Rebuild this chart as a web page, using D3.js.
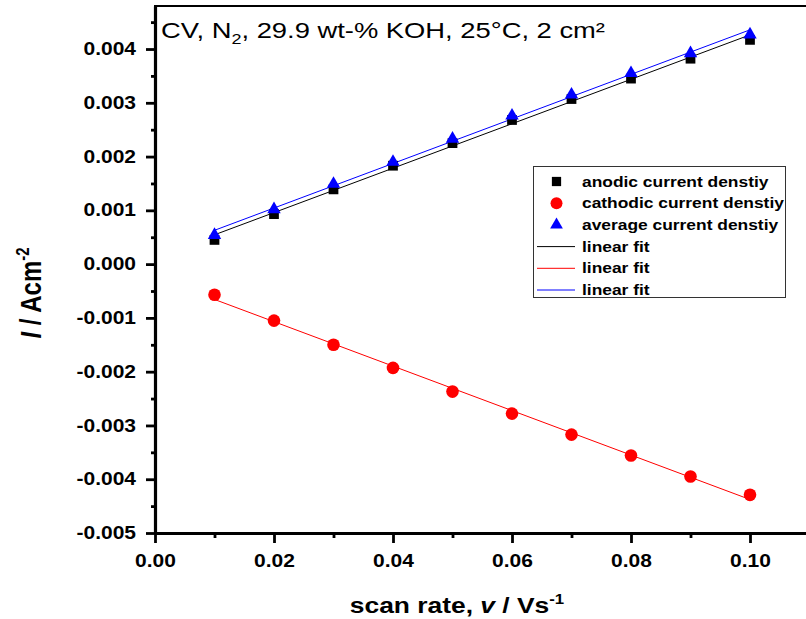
<!DOCTYPE html>
<html>
<head>
<meta charset="utf-8">
<script src="https://cdn.jsdelivr.net/npm/d3@7"></script>
<style>
  body { margin: 0; background: #fff; }
  text { font-family: "Liberation Sans", Arial, sans-serif; }
</style>
</head>
<body>
<div id="chart"></div>
<script>
// scan rates (V/s) and current densities (A/cm2)
var scanRates = [0.01, 0.02, 0.03, 0.04, 0.05, 0.06, 0.07, 0.08, 0.09, 0.10];
var anodic    = [0.00045, 0.00093, 0.00139, 0.00183, 0.00225, 0.00268, 0.00307, 0.00345, 0.00382, 0.00417];
var cathodic  = [-0.00057, -0.00105, -0.00150, -0.00193, -0.00237, -0.00278, -0.00317, -0.00356, -0.00395, -0.00429];
var average   = [0.00054, 0.00102, 0.00149, 0.00190, 0.00233, 0.00276, 0.00315, 0.00355, 0.00392, 0.00427];

var xMajor = [0, 0.02, 0.04, 0.06, 0.08, 0.10];
var xMinor = [0.01, 0.03, 0.05, 0.07, 0.09];
var yMajor = [-0.005, -0.004, -0.003, -0.002, -0.001, 0, 0.001, 0.002, 0.003, 0.004];
var yMinor = [-0.0045, -0.0035, -0.0025, -0.0015, -0.0005, 0.0005, 0.0015, 0.0025, 0.0035, 0.0045];

var legendLabels = ["anodic current denstiy", "cathodic current denstiy", "average current denstiy",
                    "linear fit", "linear fit", "linear fit"];

var width = 806, height = 619;
var margin = { top: 6, left: 155, bottom: 533 };
var stretch = 1.2; // text in the picture is drawn a bit wide

var svg = d3.select("#chart")
  .append("svg")
  .attr("width", width)
  .attr("height", height);

var xScale = d3.scaleLinear()
  .domain([0, 0.11])
  .range([margin.left, margin.left + 0.11 * 5950]);
var yScale = d3.scaleLinear()
  .domain([-0.005, 0.0048])
  .range([margin.bottom, margin.top]);

// plain hyphen for negatives, like the original
function fmt(p) {
  var f = d3.format("." + p + "f");
  return function(d) { return f(d).replace("\u2212", "-"); };
}

// frame (top + right, right is off the picture)
svg.append("rect")
  .attr("x", xScale(0))
  .attr("y", yScale(0.0048))
  .attr("width", xScale(0.11) - xScale(0))
  .attr("height", yScale(-0.005) - yScale(0.0048))
  .attr("fill", "none")
  .attr("stroke", "#000")
  .attr("stroke-width", 2);

// axes
var x_axis = d3.axisBottom(xScale)
  .tickValues(xMajor)
  .tickSize(10)
  .tickSizeOuter(0)
  .tickPadding(6)
  .tickFormat(fmt(2));
var x_minor = d3.axisBottom(xScale)
  .tickValues(xMinor)
  .tickSize(5)
  .tickFormat("");
var y_axis = d3.axisLeft(yScale)
  .tickValues(yMajor)
  .tickSize(9)
  .tickSizeOuter(0)
  .tickFormat(fmt(3));
var y_minor = d3.axisLeft(yScale)
  .tickValues(yMinor)
  .tickSize(4)
  .tickFormat("");

var gx = svg.append("g")
  .attr("transform", "translate(0," + margin.bottom + ")")
  .call(x_axis);
var gxm = svg.append("g")
  .attr("transform", "translate(0," + margin.bottom + ")")
  .call(x_minor);
var gy = svg.append("g")
  .attr("transform", "translate(" + margin.left + ",0)")
  .call(y_axis);
var gym = svg.append("g")
  .attr("transform", "translate(" + margin.left + ",0)")
  .call(y_minor);

gxm.select(".domain").remove();
gym.select(".domain").remove();
svg.selectAll(".domain").attr("stroke-width", 3.2);
svg.selectAll(".tick line").attr("stroke-width", 2.8);

gx.selectAll("text")
  .attr("font-size", "17.5px")
  .attr("font-weight", "bold")
  .attr("font-family", "Liberation Sans, Arial, sans-serif")
  .attr("transform", "scale(" + stretch + ",1)")
  .attr("dy", "1.05em");
gy.selectAll("text")
  .attr("font-size", "17.5px")
  .attr("font-weight", "bold")
  .attr("font-family", "Liberation Sans, Arial, sans-serif")
  .attr("x", -19 / stretch)
  .attr("transform", "scale(" + stretch + ",1)");

// linear fits
function fit(ys) {
  var mx = d3.mean(scanRates), my = d3.mean(ys);
  var sxy = d3.sum(scanRates, function(x, i) { return (x - mx) * (ys[i] - my); });
  var sxx = d3.sum(scanRates, function(x) { return (x - mx) * (x - mx); });
  var b = sxy / sxx, a = my - b * mx;
  var x0 = scanRates[0], x1 = scanRates[scanRates.length - 1];
  return [[x0, a + b * x0], [x1, a + b * x1]];
}

var line = d3.line()
  .x(function(d) { return xScale(d[0]); })
  .y(function(d) { return yScale(d[1]); });

var series = [
  { values: anodic, color: "#000000", symbol: d3.symbolSquare, size: 95 },
  { values: cathodic, color: "#ff0000", symbol: d3.symbolCircle, size: 125 },
  { values: average, color: "#0000ff", symbol: d3.symbolTriangle, size: 78 }
];

series.forEach(function(s) {
  svg.append("path")
    .attr("d", line(fit(s.values)))
    .attr("fill", "none")
    .attr("stroke", s.color)
    .attr("stroke-width", 1);
});

series.forEach(function(s) {
  svg.selectAll(null)
    .data(s.values)
    .enter()
    .append("path")
    .attr("d", d3.symbol().type(s.symbol).size(s.size))
    .attr("transform", function(d, i) {
      return "translate(" + xScale(scanRates[i]) + "," + yScale(d) + ")";
    })
    .attr("fill", s.color);
});

// title inside the plot
var title = svg.append("text")
  .attr("transform", "translate(161,38) scale(" + stretch + ",1)")
  .attr("font-size", "22.8px");
title.append("tspan").text("CV, N");
title.append("tspan").attr("font-size", "15px").attr("dy", 6).text("2");
title.append("tspan").attr("dy", -6).text(", 29.9 wt-% KOH, 25°C, 2 cm²");

// axis titles
var xt = svg.append("text")
  .attr("transform", "translate(457,613) scale(" + stretch + ",1)")
  .attr("text-anchor", "middle")
  .attr("font-size", "22px")
  .attr("font-weight", "bold");
xt.append("tspan").text("scan rate, ");
xt.append("tspan").attr("font-style", "italic").text("v");
xt.append("tspan").text(" / Vs");
xt.append("tspan").attr("font-size", "14px").attr("dy", -9).text("-1");

var yt = svg.append("text")
  .attr("transform", "translate(41,293) rotate(-90) scale(1," + stretch + ")")
  .attr("text-anchor", "middle")
  .attr("font-size", "24px")
  .attr("font-weight", "bold");
yt.append("tspan").attr("font-style", "italic").text("I");
yt.append("tspan").text(" / Acm");
yt.append("tspan").attr("font-size", "15px").attr("dy", -10).text("-2");

// legend
var legend = svg.append("g");
legend.append("rect")
  .attr("x", 533.5)
  .attr("y", 166.5)
  .attr("width", 252)
  .attr("height", 131)
  .attr("fill", "#fff")
  .attr("stroke", "#333")
  .attr("stroke-width", 1);

var rowY = d3.scaleLinear().domain([0, 5]).range([181.5, 290]);

legendLabels.forEach(function(label, i) {
  var yy = rowY(i);
  if (i < 3) {
    legend.append("path")
      .attr("d", d3.symbol().type(series[i].symbol).size(series[i].size * 0.9))
      .attr("transform", "translate(556.5," + yy + ")")
      .attr("fill", series[i].color);
  } else {
    legend.append("line")
      .attr("x1", 537).attr("x2", 575)
      .attr("y1", yy).attr("y2", yy)
      .attr("stroke", series[i - 3].color)
      .attr("stroke-width", 1);
  }
  legend.append("text")
    .attr("transform", "translate(582," + (yy + 5) + ") scale(" + stretch + ",1)")
    .attr("font-size", "14.5px")
    .attr("font-weight", "bold")
    .text(label);
});
</script>
</body>
</html>
